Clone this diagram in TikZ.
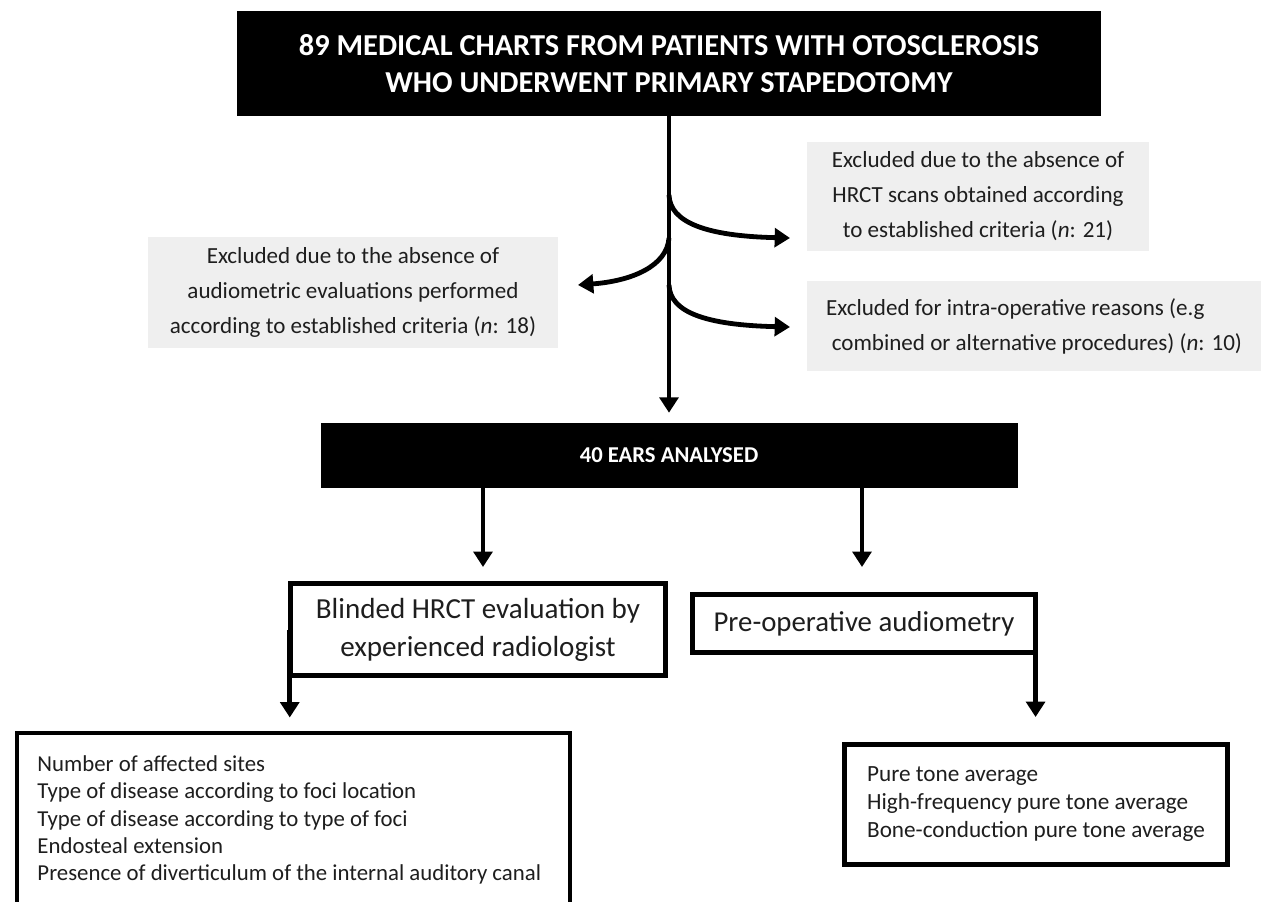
\documentclass[tikz,border=0pt]{standalone}
\usepackage{fontspec}
\setmainfont{Carlito}
\usetikzlibrary{arrows.meta}
\definecolor{exgray}{RGB}{239,239,239}
\definecolor{txt}{RGB}{30,30,30}
\begin{document}
\begin{tikzpicture}[x=0.75pt,y=-0.75pt,
  blackbox/.style={fill=black, text=white, inner sep=0pt, align=center},
  graybox/.style={fill=exgray, text=txt, inner sep=0pt, font=\fontsize{17.3pt}{26.25pt}\selectfont},
  whitebox/.style={draw=black, line width=3.7pt, fill=white, text=txt, inner sep=0pt},
  arr/.style={line width=3.6pt, -{Triangle[width=14pt,length=11.5pt]}}]
\useasboundingbox (0,0) rectangle (1261,902);

% top box
\node[blackbox, minimum width=648pt, minimum height=78.75pt,
  font=\fontsize{22.8pt}{27.75pt}\selectfont\bfseries] (top) at (669,63.5)
  {89 MEDICAL CHARTS FROM PATIENTS WITH OTOSCLEROSIS\\WHO UNDERWENT PRIMARY STAPEDOTOMY};

% exclusion boxes
\node[graybox, minimum width=256.5pt, minimum height=81.75pt, align=center] (ex1) at (978,196.5)
  {Excluded due to the absence of\\HRCT scans obtained according\\to established criteria (\textit{n}: 21)};
\node[graybox, minimum width=340.5pt, minimum height=67.5pt, align=left] (ex2) at (1034,326)
  {Excluded for intra-operative reasons (e.g\\\hspace{0.25em}combined or alternative procedures) (\textit{n}: 10)};
\node[graybox, minimum width=307.5pt, minimum height=83.25pt, align=center] (ex3) at (353,292.5)
  {Excluded due to the absence of\\audiometric evaluations performed\\according to established criteria (\textit{n}: 18)};

% second black box
\node[blackbox, minimum width=522.75pt, minimum height=48.75pt,
  font=\fontsize{17pt}{20pt}\selectfont\bfseries] (ears) at (669,455.5) {40 EARS ANALYSED};

% white boxes
\node[whitebox, minimum width=281.25pt, minimum height=69pt, align=center,
  font=\fontsize{21.8pt}{28.5pt}\selectfont] (blind) at (478,629.5)
  {Blinded HRCT evaluation by\\experienced radiologist};
\node[whitebox, minimum width=257.25pt, minimum height=43.5pt,
  font=\fontsize{21.6pt}{28.5pt}\selectfont] (preop) at (864,623.5)
  {Pre-operative audiometry};
\node[whitebox, minimum width=414.75pt, anchor=north west, inner sep=0pt,
  font=\fontsize{17.1pt}{20.5pt}\selectfont] (list) at (14.5,730.5)
  {\parbox[c][150pt][t]{397pt}{\vspace{14.5pt}\hspace*{6.5pt}\begin{tabular}[t]{@{}l@{}}%
  Number of affected sites\\
  Type of disease according to foci location\\
  Type of disease according to type of foci\\
  Endosteal extension\\
  Presence of diverticulum of the internal auditory canal\end{tabular}}};
\node[whitebox, minimum width=287.25pt, minimum height=90pt, align=left,
  font=\fontsize{17.4pt}{21pt}\selectfont] (pta) at (1036,804.5)
  {Pure tone average\\High-frequency pure tone average\\Bone-conduction pure tone average};

% trunk and branches
\coordinate (b1) at (669,195);
\coordinate (b2) at (669,238);
\coordinate (b3) at (669,285);
\coordinate (c1) at (790,238);
\coordinate (c2) at (578,285);
\coordinate (c3) at (790,327);
\draw[arr, shorten >=7.5pt] (top.south) -- (ears.north);
\draw[arr] (b1) .. controls (670,222) and (705,236) .. (c1);
\draw[arr] (b2) .. controls (667,266) and (632,281) .. (c2);
\draw[arr] (b3) .. controls (670,312) and (705,325) .. (c3);

% arrows from ears
\coordinate (e1) at (483,567);
\coordinate (e2) at (862,567);
\draw[arr] (ears.south -| e1) -- (e1);
\draw[arr] (ears.south -| e2) -- (e2);

% arrows to lists
\draw[arr, shorten >=9.75pt] ([xshift=1.3pt]blind.west) -- ([xshift=1.3pt]blind.west |- list.north);
\draw[arr, shorten >=18.75pt] ([xshift=-1.8pt]preop.south east) -- ([xshift=-1.8pt]preop.south east |- pta.north);
\end{tikzpicture}
\end{document}
